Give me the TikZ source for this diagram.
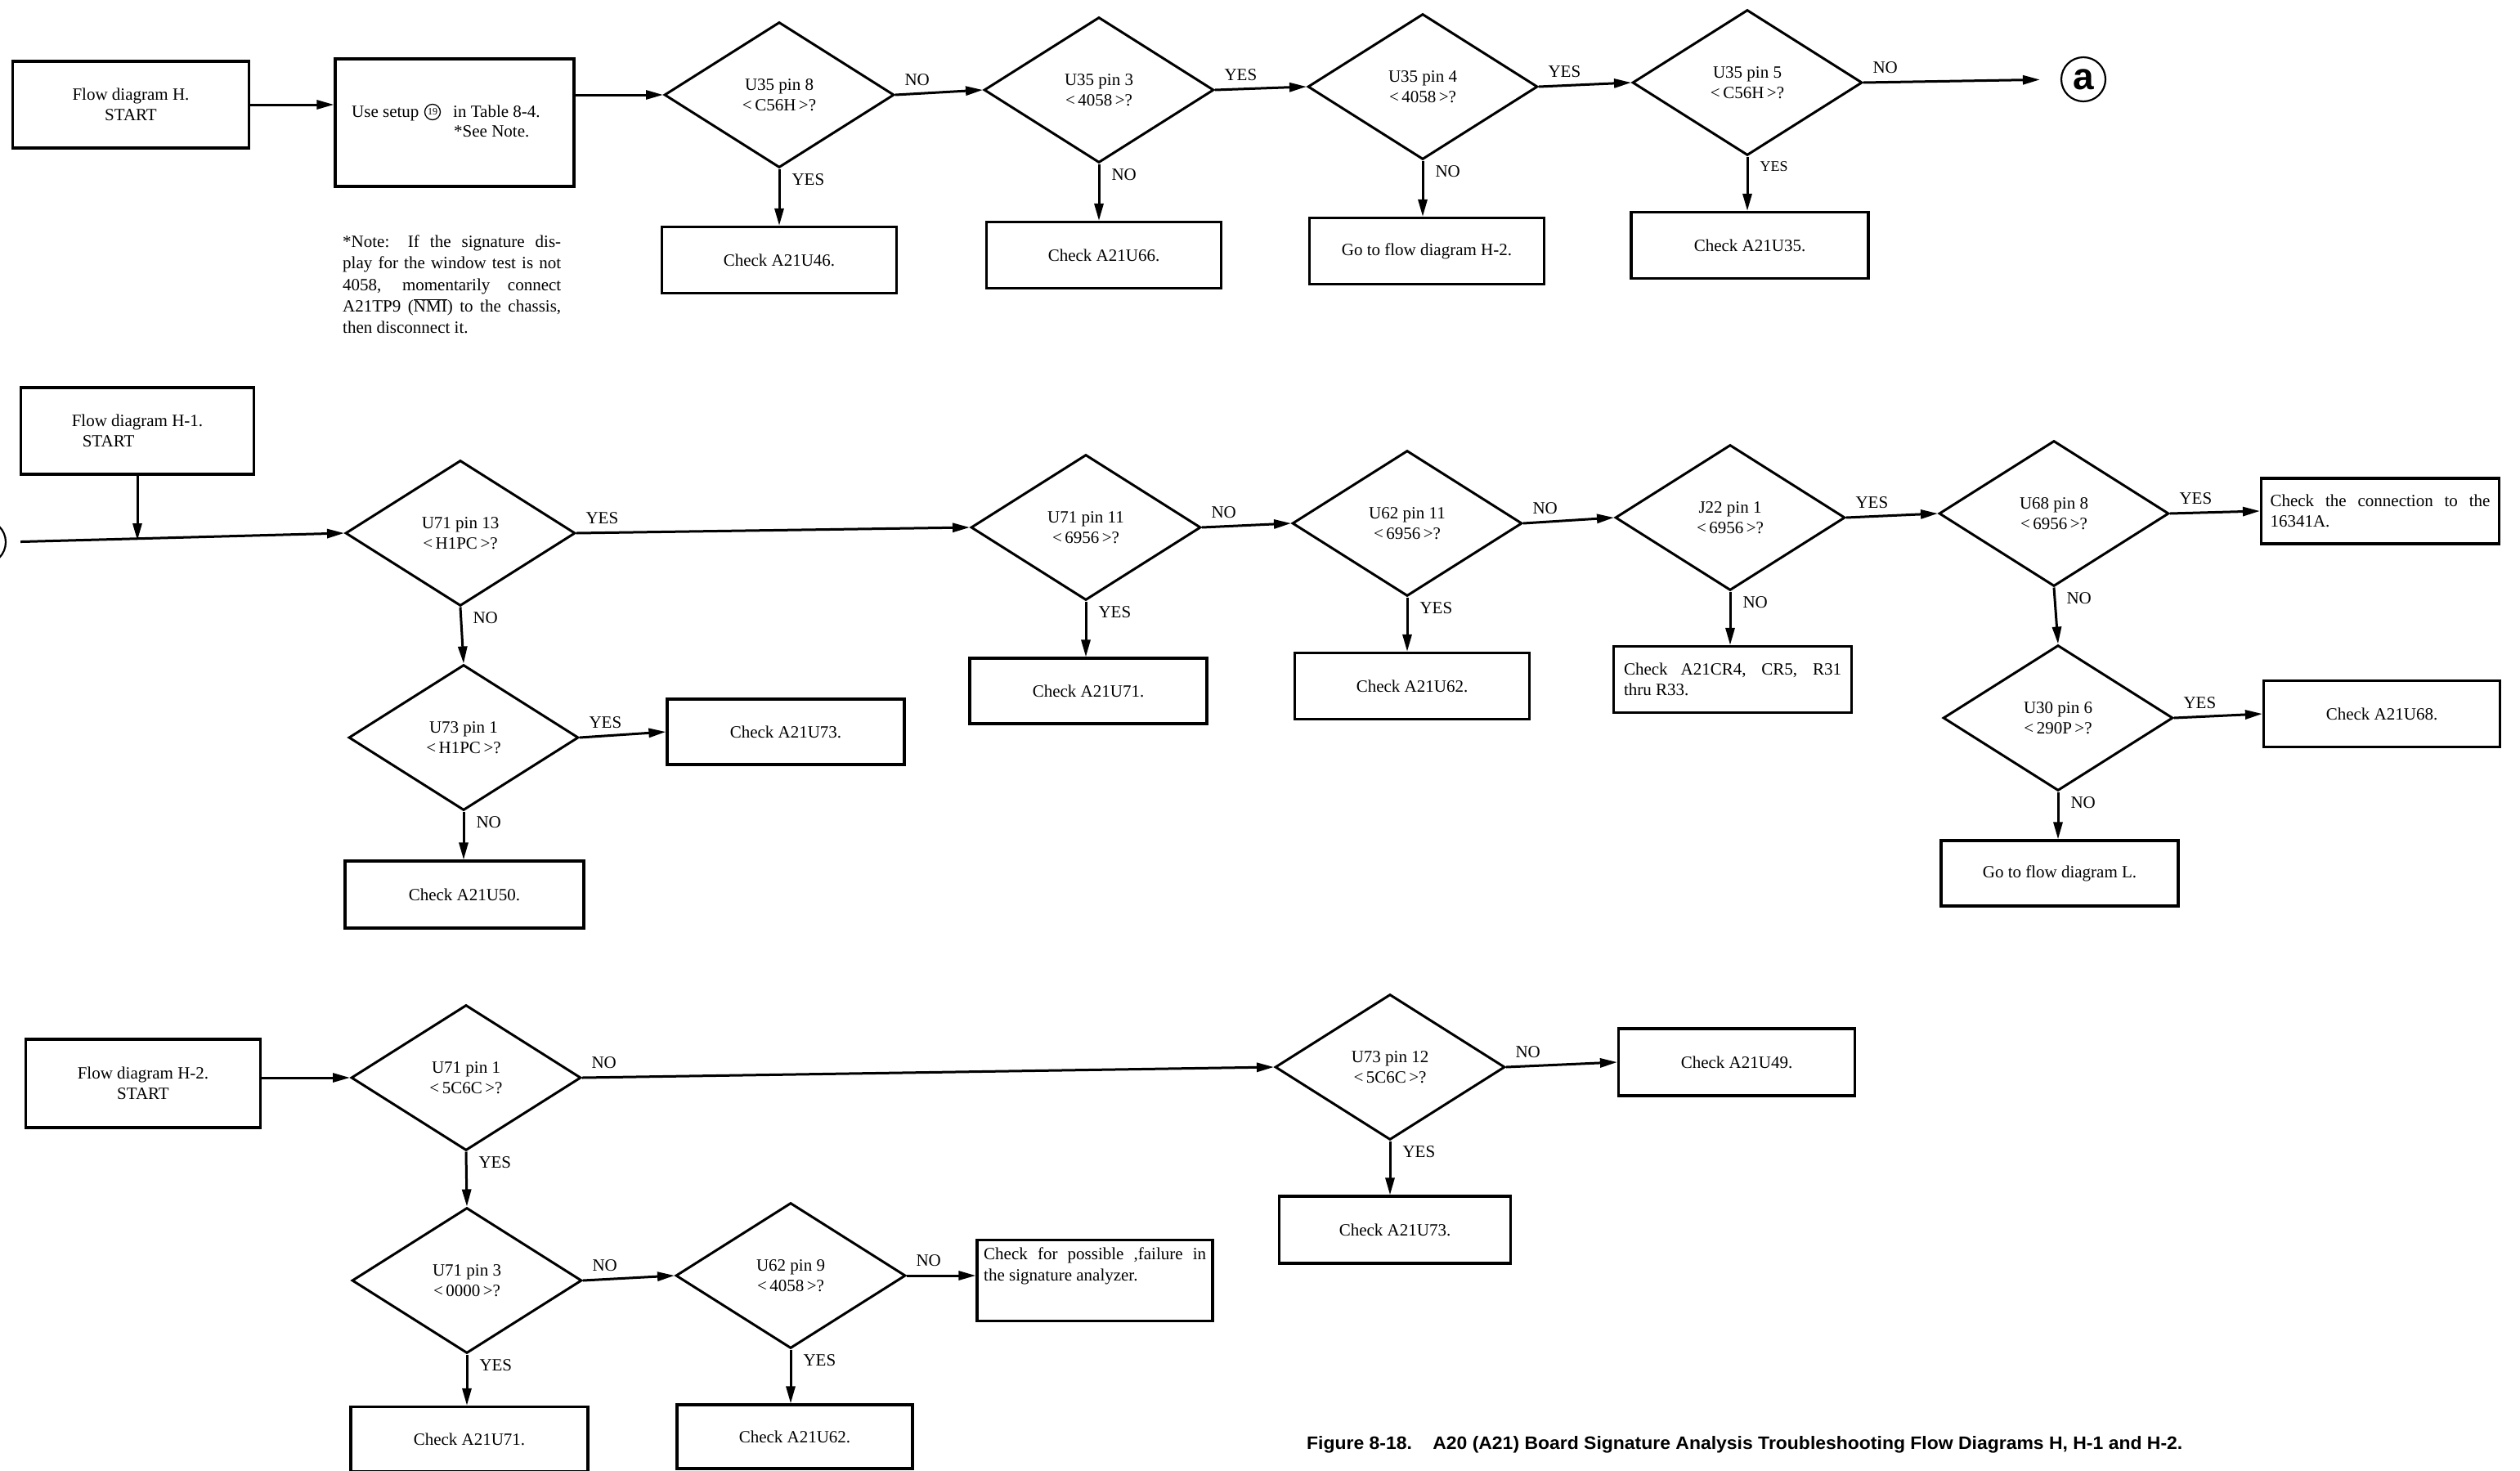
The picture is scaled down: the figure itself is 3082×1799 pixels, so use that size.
\documentclass[tikz,border=0pt]{standalone}
\usepackage{fontspec}
\usepackage{graphicx}
\setmainfont{Liberation Serif}
\newfontfamily\capfont{Liberation Sans}
\usetikzlibrary{shapes.geometric,arrows.meta}
\newcommand\ftx{\fontsize{21}{25}\selectfont}
\tikzset{
  box/.style={draw, line width=3.2pt, minimum width=288pt, minimum height=81pt, align=center, inner sep=4pt},
  dia/.style={draw, diamond, aspect=1.58, line width=3pt, minimum width=281pt, minimum height=178pt, align=center, inner sep=0pt},
  arr/.style={line width=3pt, -{Triangle[length=21pt,width=11pt]}},
  hl/.style={at start, anchor=south west, inner sep=0pt, xshift=10pt, yshift=10pt},
  vl/.style={at start, anchor=north west, inner sep=0pt, xshift=14pt, yshift=-5pt},
  txt/.style={anchor=base west, inner sep=0pt},
  conn/.style={circle, draw, line width=2.2pt, minimum size=54pt, inner sep=0pt},
  circnum/.style={circle, draw, line width=1.3pt, minimum size=19pt, inner sep=0pt, font=\fontsize{12}{12}\selectfont},
}
\begin{document}
\begin{tikzpicture}[x=1pt,y=-1pt, every node/.style={font=\ftx}]
\path[use as bounding box] (0,0) rectangle (3082,1799);
\fill[white] (0,0) rectangle (3082,1799);
\clip (0,0) rectangle (3082,1799);

% ---------------- Row 1: flow diagram H
\node[box, minimum width=289pt, minimum height=106pt] (sH) at (160,128) {Flow diagram H.\\START};
\node[box, minimum width=292pt, minimum height=156pt] (setup) at (556,150) {};
\node[txt] (su1) at (430,143) {Use setup};
\node[circnum] (c19) at (529,137) {19};
\node[txt] (su2) at (554,143) {in Table 8-4.};
\node[txt] (su3) at (555,167) {*See Note.};

\node[dia] (d1) at (953,116) {U35 pin 8\\<\,C56H\,>?};
\node[dia] (d2) at (1344,110) {U35 pin 3\\<\,4058\,>?};
\node[dia] (d3) at (1740,106) {U35 pin 4\\<\,4058\,>?};
\node[dia] (d4) at (2137,101) {U35 pin 5\\<\,C56H\,>?};
\node[conn, font=\capfont\bfseries\fontsize{46}{46}\selectfont] (a1) at (2548,97) {a};

\node[box, minimum width=287pt] (b46) at (953,318) {Check A21U46.};
\node[box, minimum width=287pt] (b66) at (1350,312) {Check A21U66.};
\node[box, minimum width=287pt] (bH2) at (1745,307) {Go to flow diagram H-2.};
\node[box, minimum width=290pt] (b35) at (2140,300) {Check A21U35.};

\node[txt] (n1) at (419,302) {\makebox[267pt][s]{*Note: If the signature dis-}};
\node[txt] (n2) at (419,328) {\makebox[267pt][s]{play for the window test is not}};
\node[txt] (n3) at (419,355) {\makebox[267pt][s]{4058, momentarily connect}};
\node[txt] (n4) at (419,381) {\makebox[267pt][s]{A21TP9 ($\overline{\hbox{NMI}}$) to the chassis,}};
\node[txt] (n5) at (419,407) {then disconnect it.};

\draw[arr] (sH.east) -- (sH.east -| setup.west);
\draw[arr] (setup.east |- d1.west) -- (d1.west);
\draw[arr] (d1.east) -- node[hl] (l1) {NO} (d2.west);
\draw[arr] (d2.east) -- node[hl] (l2) {YES} (d3.west);
\draw[arr] (d3.east) -- node[hl] (l3) {YES} (d4.west);
\draw[arr, shorten >=25pt] (d4.east) -- node[hl] (l4) {NO} (a1.west);
\draw[arr] (d1.south) -- node[vl] (l1v) {YES} (d1.south |- b46.north);
\draw[arr] (d2.south) -- node[vl] (l2v) {NO} (d2.south |- b66.north);
\draw[arr] (d3.south) -- node[vl] (l3v) {NO} (d3.south |- bH2.north);
\draw[arr] (d4.south) -- node[vl, font=\fontsize{18}{20}\selectfont] (l4v) {YES} (d4.south |- b35.north);

% ---------------- Row 2: flow diagram H-1
\node[box, minimum width=285pt, minimum height=106pt, align=left] (sH1) at (168,527) {Flow diagram H-1.\\\hspace*{13pt}START};
\node[conn] (a2) at (-20,663) {};
\coordinate (j1) at (168,661);
\node[dia] (d5) at (563,652) {U71 pin 13\\<\,H1PC\,>?};
\node[dia] (d6) at (1328,645) {U71 pin 11\\<\,6956\,>?};
\node[dia] (d7) at (1721,640) {U62 pin 11\\<\,6956\,>?};
\node[dia] (d8) at (2116,633) {J22 pin 1\\<\,6956\,>?};
\node[dia] (d9) at (2512,628) {U68 pin 8\\<\,6956\,>?};
\node[box, minimum width=291pt, minimum height=80pt, align=left] (bconn) at (2911,625) {\makebox[269pt][s]{Check the connection to the}\\16341A.};
\node[dia] (d10) at (2517,878) {U30 pin 6\\<\,290P\,>?};
\node[box, minimum width=289pt] (b68) at (2913,873) {Check A21U68.};
\node[box, minimum width=290pt, minimum height=80pt] (bL) at (2519,1068) {Go to flow diagram L.};
\node[box, minimum width=290pt, minimum height=80pt] (b71) at (1331,845) {Check A21U71.};
\node[box, minimum width=287pt] (b62) at (1727,839) {Check A21U62.};
\node[box, minimum width=291pt, align=left] (bcr) at (2119,831) {\makebox[266pt][s]{Check A21CR4, CR5, R31}\\thru R33.};
\node[dia] (d11) at (567,902) {U73 pin 1\\<\,H1PC\,>?};
\node[box, minimum width=290pt, minimum height=80pt] (b73) at (961,895) {Check A21U73.};
\node[box, minimum width=292pt, minimum height=82pt] (b50) at (568,1094) {Check A21U50.};

\draw[arr, shorten <=17pt] (a2.east) -- (d5.west);
\draw[arr] (j1 |- sH1.south) -- (j1);
\draw[arr] (d5.east) -- node[hl] (l5) {YES} (d6.west);
\draw[arr] (d6.east) -- node[hl] (l6) {NO} (d7.west);
\draw[arr] (d7.east) -- node[hl] (l7) {NO} (d8.west);
\draw[arr] (d8.east) -- node[hl] (l8) {YES} (d9.west);
\draw[arr] (d9.east) -- node[hl] (l9) {YES} (bconn.west);
\draw[arr] (d5.south) -- node[vl] (l5v) {NO} (d11.north);
\draw[arr] (d11.east) -- node[hl] (l11) {YES} (b73.west);
\draw[arr] (d11.south) -- node[vl] (l11v) {NO} (d11.south |- b50.north);
\draw[arr] (d6.south) -- node[vl] (l6v) {YES} (d6.south |- b71.north);
\draw[arr] (d7.south) -- node[vl] (l7v) {YES} (d7.south |- b62.north);
\draw[arr] (d8.south) -- node[vl] (l8v) {NO} (d8.south |- bcr.north);
\draw[arr] (d9.south) -- node[vl] (l9v) {NO} (d10.north);
\draw[arr] (d10.east) -- node[hl] (l10) {YES} (b68.west);
\draw[arr] (d10.south) -- node[vl] (l10v) {NO} (d10.south |- bL.north);

% ---------------- Row 3: flow diagram H-2
\node[box, minimum width=287pt, minimum height=108pt] (sH2) at (175,1325) {Flow diagram H-2.\\START};
\node[dia] (d12) at (570,1318) {U71 pin 1\\<\,5C6C\,>?};
\node[dia] (d13) at (1700,1305) {U73 pin 12\\<\,5C6C\,>?};
\node[box, minimum width=289pt, minimum height=82pt] (b49) at (2124,1299) {Check A21U49.};
\node[box, minimum width=283pt, minimum height=82pt] (b73b) at (1706,1504) {Check A21U73.};
\node[dia] (d14) at (571,1566) {U71 pin 3\\<\,0000\,>?};
\node[dia] (d15) at (967,1560) {U62 pin 9\\<\,4058\,>?};
\node[box, minimum width=288pt, minimum height=99pt] (bposs) at (1339,1566) {};
\node[txt] (pt1) at (1203,1540) {\makebox[272pt][s]{Check for possible ,failure in}};
\node[txt] (pt2) at (1203,1566) {the signature analyzer.};
\node[box, minimum width=290pt, minimum height=79pt] (b71b) at (574,1760) {Check A21U71.};
\node[box, minimum width=288pt, minimum height=78pt] (b62b) at (972,1757) {Check A21U62.};

\draw[arr] (sH2.east |- d12.west) -- (d12.west);
\draw[arr] (d12.east) -- node[hl] (l12) {NO} (d13.west);
\draw[arr] (d13.east) -- node[hl] (l13) {NO} (b49.west);
\draw[arr] (d13.south) -- node[vl] (l13v) {YES} (d13.south |- b73b.north);
\draw[arr] (d12.south) -- node[vl] (l12v) {YES} (d14.north);
\draw[arr] (d14.east) -- node[hl] (l14) {NO} (d15.west);
\draw[arr] (d15.east) -- node[hl] (l15) {NO} (d15.east -| bposs.west);
\draw[arr] (d14.south) -- node[vl] (l14v) {YES} (d14.south |- b71b.north);
\draw[arr] (d15.south) -- node[vl] (l15v) {YES} (d15.south |- b62b.north);

% caption
\node[anchor=base west, inner sep=0pt, font=\capfont\bfseries\fontsize{22}{24}\selectfont] (cap) at (1598,1772)
  {\resizebox{1071pt}{\height}{Figure 8-18.\hspace{1.1em}A20 (A21) Board Signature Analysis Troubleshooting Flow Diagrams H, H-1 and H-2.}};
\end{tikzpicture}
\end{document}
